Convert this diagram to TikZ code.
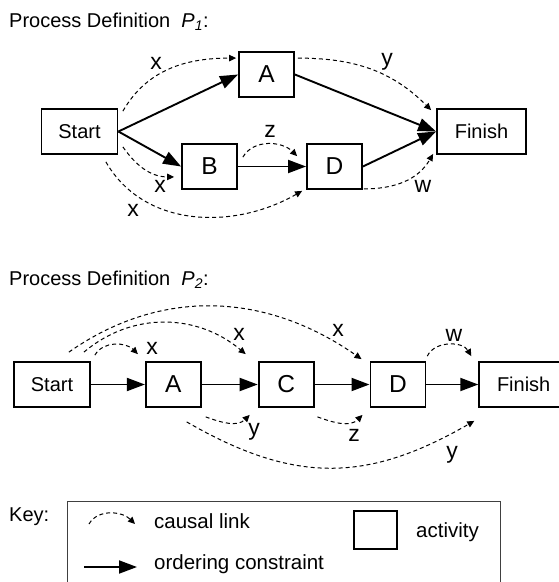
\documentclass[tikz,border=0pt]{standalone}
\usepackage{fontspec}
\setmainfont{Liberation Sans}
\usetikzlibrary{arrows.meta,positioning}

\begin{document}
\begin{tikzpicture}[
            x=1pt, y=-1pt,
            font=\fontsize{20}{24}\selectfont,
            act/.style={draw, line width=1.8pt, minimum width=55pt,
            minimum height=45pt, inner sep=0pt, font=\fontsize{24.5}{28}\selectfont},
            term/.style={act, minimum width=76pt, font=\fontsize{20}{24}\selectfont},
            fin/.style={term, minimum width=89pt},
            order/.style={-{Triangle[length=18pt,width=13pt]}, line width=1.9pt},
            causal/.style={-{Triangle[length=7pt,width=6.5pt]}, line width=1pt,
            dash pattern=on 4pt off 3pt},
            lbl/.style={inner sep=0pt, font=\fontsize{23}{26}\selectfont},
            title/.style={anchor=base west, inner sep=0pt},
            keytxt/.style={title, font=\fontsize{20.5}{24}\selectfont}
        ]
            \useasboundingbox (0,0) rectangle (558,582);

% --- process definition P1 ---
            \node[title] (title1) at (9,27) {Process Definition~ \textit{P}\textsubscript{\textit{1}}:};

            \node[term] (start1) at (79.5,131.5)  {Start};
            \node[act]  (a1)     at (266.5,74.5)  {A};
            \node[act]  (b1)     at (209.5,166.5) {B};
            \node[act]  (d1)     at (334.5,166.5) {D};
            \node[fin]  (fin1)   at (481.5,131.5) {Finish};

% ordering constraints
            \draw[order] (start1.east) -- (a1.west);
            \draw[order] (start1.east) -- (b1.west);
            \draw[order] (b1) -- (d1);
            \draw[order] (a1.east) -- (fin1.west);
            \draw[order] (d1.east) -- (fin1.west);

% causal links
            \draw[causal] ([shift={(4.5,3)}]start1.north east) to[out=60,in=180] ([shift={(-2,7)}]a1.north west);
            \draw[causal] ([shift={(4.5,-8)}]start1.south east) to[out=-55,in=180] ([shift={(-7,-13)}]b1.south west);
            \draw[causal] ([shift={(-12.5,7)}]start1.south east) to[out=-60,in=-150] ([shift={(-4,1)}]d1.south west);
            \draw[causal] ([shift={(5,14)}]b1.north east) to[out=60,in=135] ([shift={(-9,13)}]d1.north west);
            \draw[causal] ([shift={(3,7)}]a1.north east) to[out=0,in=135] ([shift={(-5,2)}]fin1.north west);
            \draw[causal] ([shift={(1,-1)}]d1.south east) to[out=0,in=-120] ([shift={(-3,-1)}]fin1.south west);

            \node[lbl] (lx1) at (156,63)  {x};
            \node[lbl] (lx2) at (160,186) {x};
            \node[lbl] (lx3) at (133,210) {x};
            \node[lbl] (lz1) at (270,131) {z};
            \node[lbl] (ly1) at (387,62)  {y};
            \node[lbl] (lw1) at (423,186) {w};

% --- process definition P2 ---
            \node[title] (title2) at (9,285) {Process Definition~ \textit{P}\textsubscript{\textit{2}}:};

            \node[term]                   (start2) at (52,384.5) {Start};
            \node[act, right=54pt of start2] (a2)   {A};
            \node[act, right=56pt of a2]     (c2)   {C};
            \node[act, right=55pt of c2]     (d2)   {D};
            \node[fin, right=52pt of d2]     (fin2) {Finish};

            \draw[order] (start2) -- (a2);
            \draw[order] (a2) -- (c2);
            \draw[order] (c2) -- (d2);
            \draw[order] (d2) -- (fin2);

            \draw[causal] ([shift={(4,-6)}]start2.north east) to[out=60,in=135] ([shift={(-7,-7)}]a2.north west);
            \draw[causal] ([shift={(-7,-9)}]start2.north east) to[out=40,in=140] ([shift={(-12,-7)}]c2.north west);
            \draw[causal] ([shift={(-22,-9)}]start2.north east) to[out=35,in=145] ([shift={(-8,-2)}]d2.north west);
            \draw[causal] ([shift={(1,-5)}]d2.north east) to[out=65,in=120] ([shift={(-7,-5)}]fin2.north west);
            \draw[causal] ([shift={(4,9)}]a2.south east) to[out=-20,in=-135] ([shift={(-8,7)}]c2.south west);
            \draw[causal] ([shift={(3,9)}]c2.south east) to[out=-20,in=-135] ([shift={(-7,7)}]d2.south west);
            \draw[causal] ([shift={(-15,14)}]a2.south east) to[out=-30,in=-150,looseness=1.1] ([shift={(-4,13)}]fin2.south west);

            \node[lbl] (lx4) at (152,348) {x};
            \node[lbl] (lx5) at (239,334) {x};
            \node[lbl] (lx6) at (338,330) {x};
            \node[lbl] (lw2) at (454,335) {w};
            \node[lbl] (ly2) at (254,432) {y};
            \node[lbl] (lz2) at (354,435) {z};
            \node[lbl] (ly3) at (452,455) {y};

% --- key ---
            \node[title] (keylbl) at (9,521) {Key:};
            \node[draw, line width=0.8pt, draw=black!75, anchor=north west,
            minimum width=433.5pt, minimum height=99pt] (keybox) at (66.5,501) {};

            \coordinate (cl0) at (89,524);
            \coordinate (cl1) at (135,524);
            \draw[causal] (cl0) to[out=60,in=135] (cl1);
            \node[keytxt] (cltxt) at (154,528) {causal link};

            \node[act, minimum width=43pt, minimum height=38pt] (actbox) at (375.5,530) {};
            \node[keytxt] (acttxt) at (416,537) {activity};

            \coordinate (oc0) at (84,567);
            \coordinate (oc1) at (137,567);
            \draw[order] (oc0) -- (oc1);
            \node[keytxt] (octxt) at (154,569) {ordering constraint};
        \end{tikzpicture}
\end{document}
